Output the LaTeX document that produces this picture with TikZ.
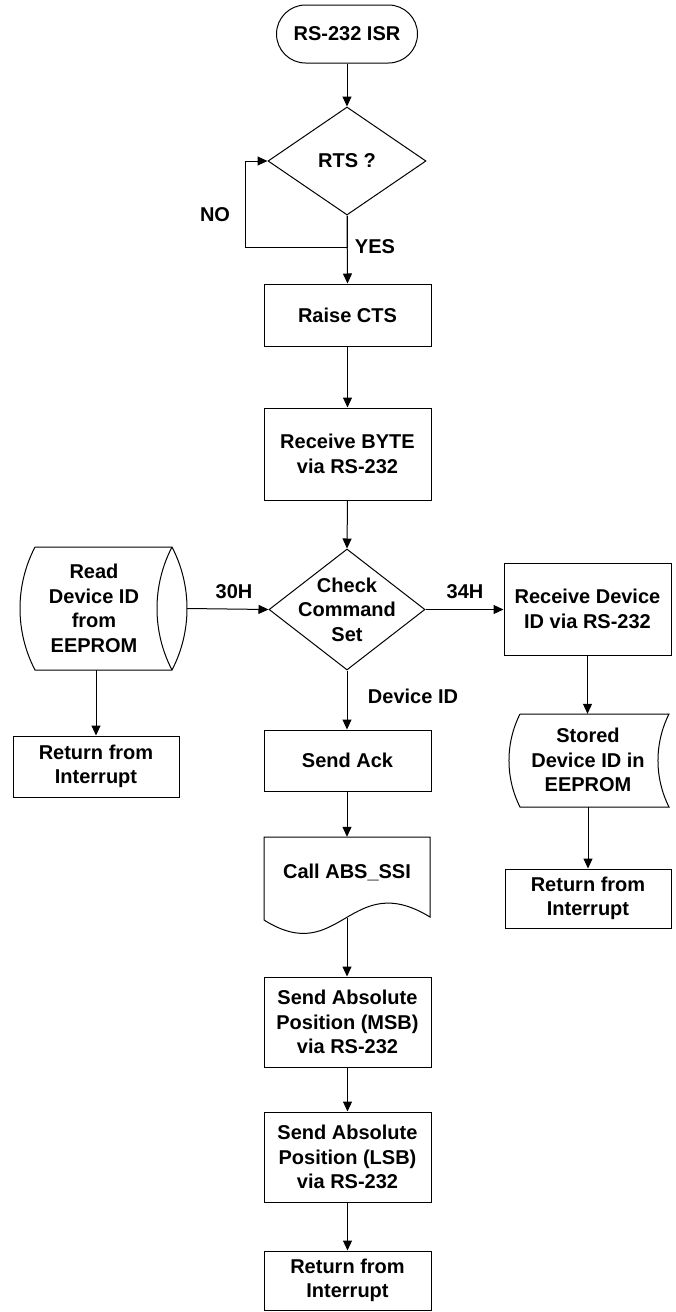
\documentclass[tikz,border=0pt]{standalone}
\usepackage{fontspec}
\setmainfont{Liberation Sans}
\usetikzlibrary{shapes.geometric,arrows.meta}
\begin{document}
\begin{tikzpicture}[x=1pt,y=-1pt,
  every node/.style={font=\bfseries\fontsize{20}{24.5}\selectfont, align=center},
  line/.style={line width=1pt},
  arr/.style={line width=1pt, -{Triangle[length=10pt,width=9pt]}},
  procbox/.style={draw, line width=1pt, rectangle, inner sep=0pt, minimum width=167pt},
  decision/.style={draw, line width=1pt, diamond, inner sep=0pt},
  frame/.style={rectangle, inner sep=0pt},
  lbl/.style={inner sep=0pt}]
\useasboundingbox (0,0) rectangle (676,1312);

% start terminal
\node[draw, line width=1pt, rectangle, rounded corners=29pt, inner sep=0pt,
      minimum width=141pt, minimum height=58pt] (start) at (347,34) {RS-232 ISR};

% RTS decision
\node[decision, minimum width=158pt, minimum height=108pt] (rts) at (347,161) {};
\node[lbl] at (rts) {RTS ?};

% main column
\node[procbox, minimum height=62pt] (raise) at (347.5,315) {Raise CTS};
\node[procbox, minimum height=92pt] (rbyte) at (347.5,454) {Receive BYTE\\via RS-232};

\node[decision, minimum width=156pt, minimum height=121pt] (chk) at (347,609.5) {};
\node[lbl] at (chk) {Check\\Command\\Set};

\node[procbox, minimum height=61pt] (ack) at (347.5,760.5) {Send Ack};

% document shape with wavy lower edge
\node[frame, minimum width=166pt, minimum height=81pt] (doc) at (347,877.5) {};
\draw[line] (264,920) -- (264,837) -- (430,837) -- (430,917)
  .. controls (350,868) and (340,968) .. (264,920);
\node[lbl] at (347,872) {Call ABS\_SSI};

\node[procbox, minimum height=90pt] (msb) at (347.5,1022) {Send Absolute\\Position (MSB)\\via RS-232};
\node[procbox, minimum height=90pt] (lsb) at (347.5,1157) {Send Absolute\\Position (LSB)\\via RS-232};
\node[procbox, minimum height=59pt] (ret3) at (347.5,1280.5) {Return from\\Interrupt};

% left branch: direct access storage (horizontal drum)
\node[frame, minimum width=167pt, minimum height=123pt] (rd) at (103.5,608.5) {};
\draw[line] (35,547) -- (172,547)
  .. controls (192,585.5) and (192,631.5) .. (172,670)
  -- (35,670)
  .. controls (15,631.5) and (15,585.5) .. (35,547);
\draw[line] (172,547) .. controls (152,585.5) and (152,631.5) .. (172,670);
\node[lbl] at (94,608.5) {Read\\Device ID\\from\\EEPROM};

\node[procbox, minimum width=166pt, minimum height=61pt] (ret1) at (96,766.5) {Return from\\Interrupt};

% right branch
\node[procbox, minimum height=92pt] (rdev) at (587.5,609) {Receive Device\\ID via RS-232};

% stored data shape
\node[frame, minimum width=160pt, minimum height=93pt] (sd) at (589,760.5) {};
\draw[line] (520,714) -- (669,714)
  .. controls (654.3,743.2) and (654.3,777.8) .. (669,807)
  -- (520,807)
  .. controls (505.3,777.8) and (505.3,743.2) .. (520,714);
\node[lbl] at (588,760) {Stored\\Device ID in\\EEPROM};

\node[procbox, minimum width=166pt, minimum height=59pt] (ret2) at (588,898.5) {Return from\\Interrupt};

% connectors
\coordinate (loopc) at (245,247);
\draw[arr] (start.south) -- (rts.north);
\draw[arr] (rts.south) -- (raise.north);
\draw[arr] (rts.south) |- (loopc) |- (rts.west);
\draw[arr] (raise.south) -- (rbyte.north);
\draw[arr] (rbyte.south) -- (chk.north);
\draw[arr] (rd.east) -- (chk.west);
\draw[arr] (chk.east) -- (rdev.west |- chk.east);
\draw[arr] (chk.south) -- (ack.north -| chk.south);
\draw[arr] (rd.south -| ret1.north) -- (ret1.north);
\draw[arr] (rdev.south) -- (sd.north -| rdev.south);
\draw[arr] (sd.south -| ret2.north) -- (ret2.north);
\draw[arr] (ack.south -| doc.north) -- (doc.north);
\draw[arr] (doc.south) -- (msb.north -| doc.south);
\draw[arr] (msb.south) -- (lsb.north);
\draw[arr] (lsb.south) -- (ret3.north);

% connector labels
\node[lbl] at (215,215) {NO};
\node[lbl] at (375,247) {YES};
\node[lbl] at (234,592) {30H};
\node[lbl] at (465,592) {34H};
\node[lbl] at (413,696) {Device ID};
\end{tikzpicture}
\end{document}
